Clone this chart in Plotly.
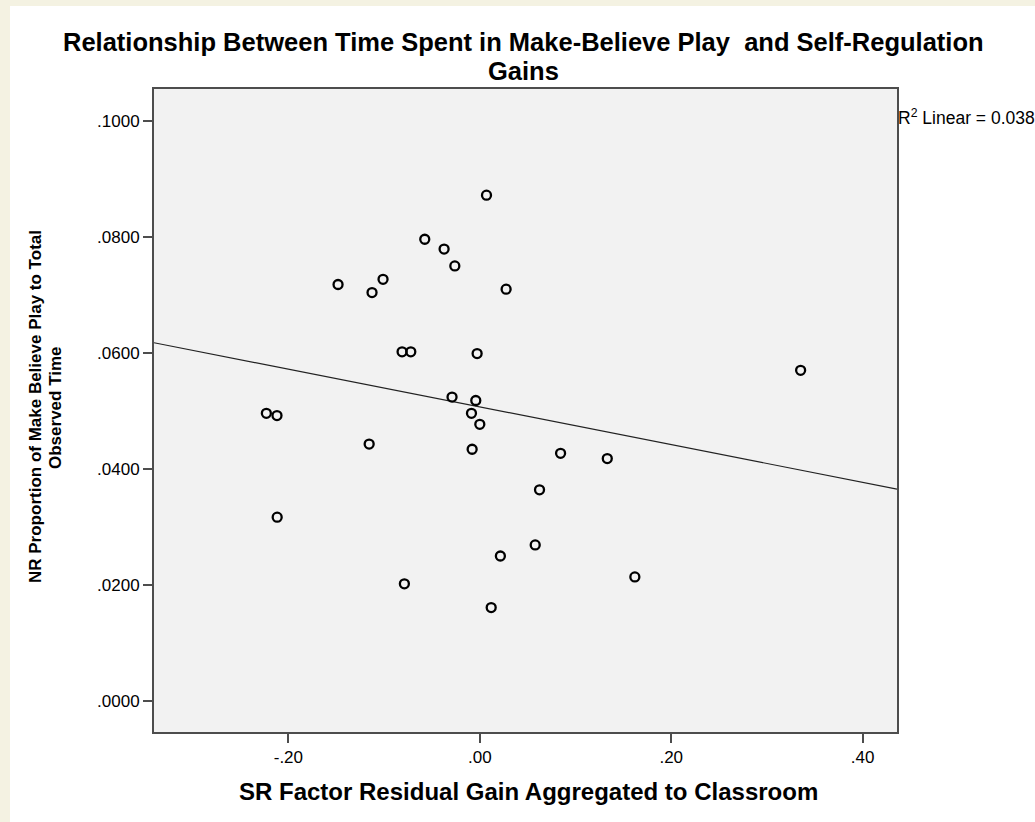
import plotly.graph_objects as go

# Data
sr_gain = [0.0070, -0.0575, -0.0373, -0.0261, -0.1481, -0.1011, -0.1126, 0.0275,
           -0.0812, -0.0721, -0.0028, -0.0290, -0.0042, -0.0087, 0.0000, -0.2230,
           -0.2119, -0.1156, -0.0080, 0.0844, 0.1332, 0.0624, -0.2117, 0.0579,
           0.0215, 0.1620, -0.0788, 0.0119, 0.3352]
mb_prop = [0.0872, 0.0796, 0.0779, 0.0750, 0.0718, 0.0727, 0.0704, 0.0710,
           0.0602, 0.0602, 0.0599, 0.0524, 0.0518, 0.0496, 0.0477, 0.0496,
           0.0492, 0.0443, 0.0434, 0.0427, 0.0418, 0.0364, 0.0317, 0.0269,
           0.0250, 0.0214, 0.0202, 0.0161, 0.0570]

# Linear fit line as shown in the reference (R^2 Linear = 0.038)
fit_intercept = 0.0507
fit_slope = -0.0325

x_ticks = [-0.2, 0.0, 0.2, 0.4]
x_ticklabels = ["-.20", ".00", ".20", ".40"]
y_ticks = [0.0, 0.02, 0.04, 0.06, 0.08, 0.10]
y_ticklabels = [".0000", ".0200", ".0400", ".0600", ".0800", ".1000"]
x_range = [-0.3404, 0.4359]
y_range = [-0.00534, 0.1055]

title_lines = ["Relationship Between Time Spent in Make-Believe Play  and Self-Regulation", "Gains"]
x_title = "SR Factor Residual Gain Aggregated to Classroom"
y_title_lines = ["NR Proportion of Make Believe Play to Total", "Observed Time"]
r2_label = "R<sup>2</sup> Linear = 0.038"

line_x = list(x_range)
line_y = [fit_intercept + fit_slope * v for v in line_x]

W, H = 1035, 822
L, R, T, B = 154, 897, 89, 732
PW, PH = R - L, B - T


def xp(px):
    return (px - L) / PW


def yp(py):
    return (B - py) / PH


AX = "#4d4d4d"
FONT = "Liberation Sans, Arial, sans-serif"
CREAM = "#F4F2E2"

fig = go.Figure()
fig.add_trace(go.Scatter(x=line_x, y=line_y, mode="lines",
                         line=dict(color="#222222", width=1.2),
                         hoverinfo="skip", showlegend=False))
fig.add_trace(go.Scatter(x=sr_gain, y=mb_prop, mode="markers",
                         marker=dict(symbol="circle-open", size=9,
                                     color="black", line=dict(width=2.3, color="black")),
                         showlegend=False))

axis_common = dict(showgrid=False, zeroline=False, showline=True, mirror=True,
                   linecolor=AX, linewidth=2, ticks="outside", ticklen=9,
                   tickcolor=AX, tickwidth=2, tickfont=dict(size=17, color="black", family=FONT))

fig.update_layout(
    width=W, height=H,
    margin=dict(l=L, r=W - R, t=T, b=H - B),
    paper_bgcolor="white",
    plot_bgcolor="#F2F2F2",
    font=dict(family=FONT, color="black"),
    xaxis=dict(range=x_range, tickvals=x_ticks, ticktext=x_ticklabels, **axis_common),
    yaxis=dict(range=y_range, tickvals=y_ticks, ticktext=y_ticklabels, **axis_common),
    shapes=[
        dict(type="rect", xref="paper", yref="paper",
             x0=xp(0), x1=xp(10), y0=yp(H), y1=yp(0),
             fillcolor=CREAM, line=dict(width=0), layer="below"),
        dict(type="rect", xref="paper", yref="paper",
             x0=xp(0), x1=xp(W), y0=yp(6), y1=yp(0),
             fillcolor=CREAM, line=dict(width=0), layer="below"),
    ],
    annotations=[
        dict(text="<b>" + title_lines[0] + "</b>", xref="paper", yref="paper",
             x=xp(523), y=yp(42), xanchor="center", yanchor="middle", showarrow=False,
             font=dict(size=25.5, color="black", family=FONT)),
        dict(text="<b>" + title_lines[1] + "</b>", xref="paper", yref="paper",
             x=xp(523), y=yp(71), xanchor="center", yanchor="middle", showarrow=False,
             font=dict(size=25.5, color="black", family=FONT)),
        dict(text="<b>" + x_title + "</b>", xref="paper", yref="paper",
             x=xp(528), y=yp(791), xanchor="center", yanchor="middle", showarrow=False,
             font=dict(size=24, color="black", family=FONT)),
        dict(text="<b>" + y_title_lines[0] + "</b>", xref="paper", yref="paper",
             x=xp(35), y=yp(407), xanchor="center", yanchor="middle", showarrow=False,
             textangle=-90, font=dict(size=17, color="black", family=FONT)),
        dict(text="<b>" + y_title_lines[1] + "</b>", xref="paper", yref="paper",
             x=xp(55), y=yp(407), xanchor="center", yanchor="middle", showarrow=False,
             textangle=-90, font=dict(size=17, color="black", family=FONT)),
        dict(text=r2_label, xref="paper", yref="paper", x=xp(896), y=yp(117),
             xanchor="left", yanchor="middle", showarrow=False,
             font=dict(size=17.5, color="black", family=FONT)),
    ],
)

fig.write_html("out.html", config={"displayModeBar": False},
               post_script="document.body.style.margin='0px';")
